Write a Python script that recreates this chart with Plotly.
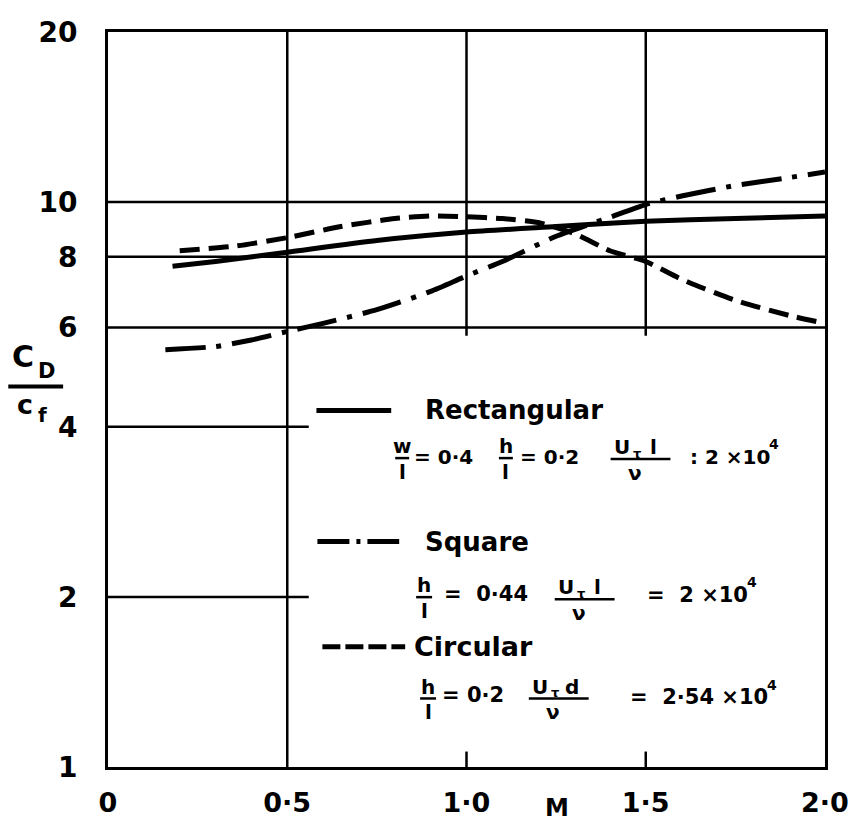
import plotly.graph_objects as go

# ---------------- data ----------------
rect_x = [0.18, 0.3, 0.5, 0.75, 1.0, 1.25, 1.5, 1.75, 2.0]
rect_y = [7.7, 7.85, 8.15, 8.55, 8.85, 9.05, 9.25, 9.35, 9.45]

sq_x = [0.16, 0.3, 0.4, 0.5, 0.6, 0.75, 0.9, 1.0, 1.1, 1.25, 1.4, 1.5, 1.6, 1.75, 1.9, 2.0]
sq_y = [5.48, 5.55, 5.7, 5.9, 6.1, 6.45, 6.95, 7.4, 7.85, 8.7, 9.4, 9.9, 10.25, 10.7, 11.05, 11.3]

circ_x = [0.2, 0.35, 0.5, 0.65, 0.8, 0.9, 1.0, 1.1, 1.2, 1.3, 1.4, 1.5, 1.6, 1.75, 1.9, 2.0]
circ_y = [8.2, 8.35, 8.65, 9.05, 9.35, 9.45, 9.42, 9.35, 9.2, 8.8, 8.2, 7.85, 7.3, 6.7, 6.3, 6.1]

x_tickvals = [0, 0.5, 1.0, 1.5, 2.0]
x_ticktext = ["0", "0·5", "1·0", "1·5", "2·0"]
y_tickvals = [1, 2, 4, 6, 8, 10, 20]
y_ticktext = ["1", "2", "4", "6", "8", "10", "20"]

full_hgrid = [6, 8, 10]
short_hgrid = [4, 2]
full_vgrid = [0.5]
upper_vgrid = [1.0, 1.5]

FONT = "DejaVu Sans"
W, H = 861, 830
L, R, T, B = 108, 827, 32, 772
NB = "\u00a0"


def px(xp):
    return (xp - L) / (R - L)


def py(yp):
    return (B - yp) / (B - T)


fig = go.Figure()

fig.add_trace(go.Scatter(x=rect_x, y=rect_y, mode="lines", name="Rectangular",
                         line=dict(color="black", width=5, shape="spline", smoothing=0.6)))
fig.add_trace(go.Scatter(x=sq_x, y=sq_y, mode="lines", name="Square",
                         line=dict(color="black", width=5, shape="spline", smoothing=0.6,
                                   dash="40px,11px,5px,11px")))
fig.add_trace(go.Scatter(x=circ_x, y=circ_y, mode="lines", name="Circular",
                         line=dict(color="black", width=5, shape="spline", smoothing=0.6,
                                   dash="20px,9px")))

shapes = []
gl = dict(color="black", width=2.5)
for v in full_hgrid:
    shapes.append(dict(type="line", xref="x", yref="y", x0=0, x1=2, y0=v, y1=v, line=gl, layer="below"))
for v in short_hgrid:
    shapes.append(dict(type="line", xref="x", yref="y", x0=0, x1=0.56, y0=v, y1=v, line=gl, layer="below"))
for v in full_vgrid:
    shapes.append(dict(type="line", xref="x", yref="y", x0=v, x1=v, y0=1, y1=20, line=gl, layer="below"))
for v in upper_vgrid:
    shapes.append(dict(type="line", xref="x", yref="y", x0=v, x1=v, y0=5.8, y1=20, line=gl, layer="below"))
    shapes.append(dict(type="line", xref="x", yref="y", x0=v, x1=v, y0=1, y1=1.065, line=gl, layer="below"))

# legend sample lines
shapes.append(dict(type="line", xref="paper", yref="paper", x0=px(317), x1=px(392), y0=py(413), y1=py(413),
                   line=dict(color="black", width=5)))
shapes.append(dict(type="line", xref="paper", yref="paper", x0=px(318), x1=px(400), y0=py(545), y1=py(545),
                   line=dict(color="black", width=5, dash="32px,7px,4px,7px")))
shapes.append(dict(type="line", xref="paper", yref="paper", x0=px(323), x1=px(406), y0=py(651), y1=py(651),
                   line=dict(color="black", width=5, dash="18px,5px")))

# y-axis label fraction bar
shapes.append(dict(type="line", xref="paper", yref="paper", x0=px(8), x1=px(63), y0=py(389), y1=py(389),
                   line=dict(color="black", width=4)))

annotations = []


def text(xp, yp, s, size, anchor="left"):
    annotations.append(dict(x=px(xp), y=py(yp), xref="paper", yref="paper", text=s,
                            showarrow=False, xanchor=anchor, yanchor="middle",
                            font=dict(family=FONT, size=size, color="black", weight="bold")))


def bar(xc, yb, half):
    shapes.append(dict(type="line", xref="paper", yref="paper", x0=px(xc - half), x1=px(xc + half),
                       y0=py(yb), y1=py(yb), line=dict(color="black", width=2.5)))


def frac(xc, yb, num, den, half=7, size=20):
    bar(xc, yb, half)
    text(xc, yb - 12, num, size, "center")
    text(xc, yb + 14, den, size, "center")


def re_frac(xc, yb, last, half=30, size=20):
    # (U_tau * last) / nu
    bar(xc, yb, half)
    text(xc - 19, yb - 12, "U", size, "center")
    text(xc - 4, yb - 6, "τ", 13, "center")
    text(xc + 13, yb - 12, last, size, "center")
    text(xc - 6, yb + 14, "ν", size, "center")


def power(xr, yc, s, size=20):
    text(xr, yc, s, size, "right")
    text(xr - 5, yc - 13, "4", 14, "left")


# y axis label  C_D / c_f
text(23, 359, "C", 30, "center")
text(46, 373, "D", 21, "center")
text(25, 407, "c", 27, "center")
text(42, 418, "f", 20, "center")

# M label
text(558, 813, "M", 24, "center")

# legend titles
text(424, 413, "Rectangular", 26)
text(424, 545, "Square", 26)
text(413, 651, "Circular", 27)

# row 1
frac(403, 461, "w", "l")
text(413, 460, "= 0·4", 20)
frac(507, 461, "h", "l")
text(519, 460, "= 0·2", 20)
re_frac(642, 462, "l")
power(774, 460, ":" + NB + "2" + NB + "×10")

# row 2
frac(425, 601, "h", "l", 8)
text(443, 598, "=" + NB + NB + "0·44", 21)
re_frac(586, 603, "l")
power(752, 599, "=" + NB + NB + "2" + NB + "×10", 21)

# row 3
frac(429, 703, "h", "l", 8)
text(441, 700, "= 0·2", 21)
re_frac(560, 703, "d")
power(772, 702, "=" + NB + NB + "2·54" + NB + "×10", 21)

fig.update_layout(
    width=W, height=H,
    margin=dict(l=L, r=W - R, t=T, b=H - B),
    paper_bgcolor="white", plot_bgcolor="white",
    showlegend=False,
    font=dict(family=FONT, color="black"),
    shapes=shapes,
    annotations=annotations,
)

fig.update_xaxes(range=[0, 2], tickvals=x_tickvals, ticktext=x_ticktext,
                 showgrid=False, zeroline=False, showline=True, linecolor="black", linewidth=3,
                 mirror=True, ticks="outside", ticklen=10, tickcolor="rgba(0,0,0,0)",
                 tickfont=dict(family=FONT, size=27, color="black", weight="bold"))
fig.update_yaxes(type="log", range=[0, 1.30103], tickvals=y_tickvals,
                 ticktext=y_ticktext,
                 showgrid=False, zeroline=False, showline=True, linecolor="black", linewidth=3,
                 mirror=True, ticks="outside", ticklen=22, tickcolor="rgba(0,0,0,0)",
                 tickfont=dict(family=FONT, size=28, color="black", weight="bold"))

fig.write_html("out.html")
